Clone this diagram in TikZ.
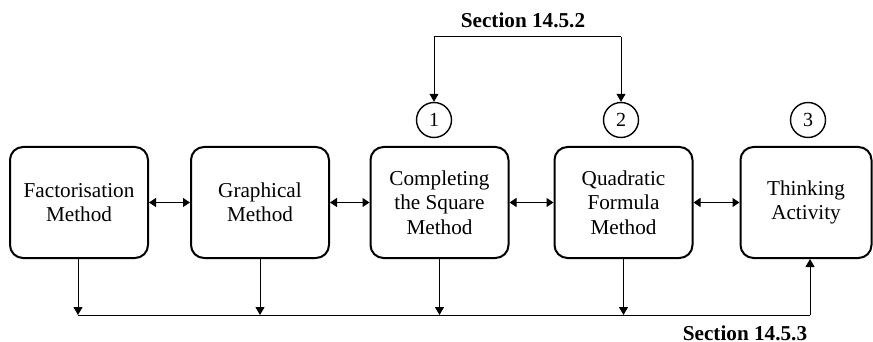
\documentclass[tikz,border=0pt]{standalone}
\usepackage{fontspec}
\setmainfont{Liberation Serif}
\usetikzlibrary{arrows.meta}

\begin{document}
\begin{tikzpicture}[x=0.5pt,y=-0.5pt,
		method/.style={draw,line width=1pt,rounded corners=6.5pt,minimum width=69pt,minimum height=55.5pt,align=center,inner sep=0pt,font=\fontsize{10.6}{12.2}\selectfont},
		marker/.style={draw,circle,line width=0.7pt,minimum size=17.5pt,inner sep=0pt,font=\fontsize{10}{12}\selectfont},
		sect/.style={font=\fontsize{10.6}{12}\selectfont\bfseries},
		link/.style={line width=0.5pt,-{Triangle[width=4.5pt,length=4pt]}},
		both/.style={line width=0.5pt,{Triangle[width=4.5pt,length=3.5pt]}-{Triangle[width=4.5pt,length=3.5pt]}}]
			\useasboundingbox (0,0) rectangle (873,342);
			% the five methods
			\node[method] (fac) at (79,202.5) {Factorisation\\Method};
			\node[method] (gra) at (260,202.5) {Graphical\\Method};
			\node[method] (com) at (439.5,202.5) {Completing\\the Square\\Method};
			\node[method] (qua) at (623.5,202.5) {Quadratic\\Formula\\Method};
			\node[method,minimum width=65.5pt] (thi) at (806,202.5) {Thinking\\Activity};
			\draw[both] (fac) -- (gra);
			\draw[both] (gra) -- (com);
			\draw[both] (com) -- (qua);
			\draw[both] (qua) -- (thi);
			% numbered circles
			\node[marker] (one) at (434,120) {1};
			\node[marker] (two) at (621,120) {2};
			\node[marker] (three) at (808,120) {3};
			% section 14.5.2
			\node[sect] (s2) at (523,20) {Section 14.5.2};
			\coordinate (t1) at (434,37);
			\coordinate (t2) at (621,37);
			\draw[line width=0.5pt] (t1) -- (t2);
			\draw[link] (t1) -- (one);
			\draw[link] (t2) -- (two);
			% section 14.5.3
			\node[sect] (s3) at (745,333) {Section 14.5.3};
			\coordinate (b0) at (78,315);
			\coordinate (b1) at (810,315);
			\draw[line width=0.5pt] (b0) -- (b1);
			\draw[link] (fac.south -| b0) -- (b0);
			\draw[link] (gra.south) -- (gra.south |- b0);
			\draw[link] (com.south) -- (com.south |- b0);
			\draw[link] (qua.south) -- (qua.south |- b0);
			\draw[link] (b1) -- (thi.south -| b1);
		\end{tikzpicture}
\end{document}
